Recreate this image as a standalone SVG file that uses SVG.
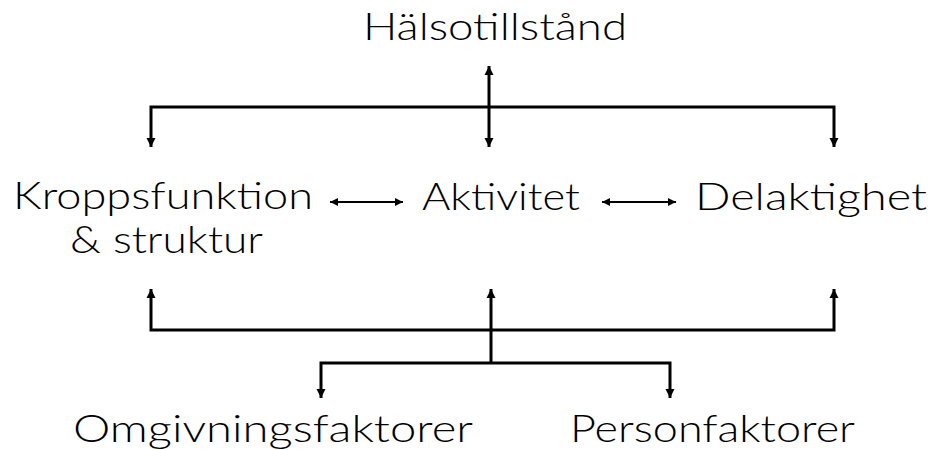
<svg xmlns="http://www.w3.org/2000/svg" width="934" height="450" viewBox="0 0 934 450">
<style>
text{font-family:Lato,"Liberation Sans",sans-serif;font-weight:300;font-size:37px;fill:#000}
.c{fill:none;stroke:#000;stroke-width:3;stroke-linejoin:miter}
.t{fill:none;stroke:#000;stroke-width:2}
</style>
<defs>
<marker id="ah" viewBox="0 0 10 10" refX="10" refY="5" markerUnits="userSpaceOnUse" markerWidth="9" markerHeight="10" orient="auto-start-reverse"><path d="M0,0 L10,5 L0,10 z" fill="#000"/></marker>
<marker id="as" viewBox="0 0 10 10" refX="10" refY="5" markerUnits="userSpaceOnUse" markerWidth="8" markerHeight="8" orient="auto-start-reverse"><path d="M0,0 L10,5 L0,10 z" fill="#000"/></marker>
</defs>
<rect width="934" height="450" fill="#fff"/>
<g id="connectors">
<path class="c" d="M489,66 V147" marker-start="url(#ah)" marker-end="url(#ah)"/>
<path class="c" d="M151,147 V107 H834 V147" marker-start="url(#ah)" marker-end="url(#ah)"/>
<path class="t" d="M330,202 H403" marker-start="url(#as)" marker-end="url(#as)"/>
<path class="t" d="M602,202 H676" marker-start="url(#as)" marker-end="url(#as)"/>
<path class="c" d="M151,289 V330 H834 V289" marker-start="url(#ah)" marker-end="url(#ah)"/>
<path class="c" d="M491,363 V289" marker-end="url(#ah)"/>
<path class="c" d="M321,398 V363 H670 V398" marker-start="url(#ah)" marker-end="url(#ah)"/>
</g>
<g id="halsotillstand"><text x="363" y="40" textLength="264" lengthAdjust="spacingAndGlyphs">Hälsotillstånd</text></g>
<g id="kroppsfunktion"><text x="13" y="209" textLength="300" lengthAdjust="spacingAndGlyphs">Kroppsfunktion</text><text x="70" y="253" textLength="193" lengthAdjust="spacingAndGlyphs">&amp; struktur</text></g>
<g id="aktivitet"><text x="422" y="210" textLength="158" lengthAdjust="spacingAndGlyphs">Aktivitet</text></g>
<g id="delaktighet"><text x="695" y="210" textLength="232" lengthAdjust="spacingAndGlyphs">Delaktighet</text></g>
<g id="omgivningsfaktorer"><text x="73" y="442" textLength="400" lengthAdjust="spacingAndGlyphs">Omgivningsfaktorer</text></g>
<g id="personfaktorer"><text x="570" y="442" textLength="285" lengthAdjust="spacingAndGlyphs">Personfaktorer</text></g>
</svg>
